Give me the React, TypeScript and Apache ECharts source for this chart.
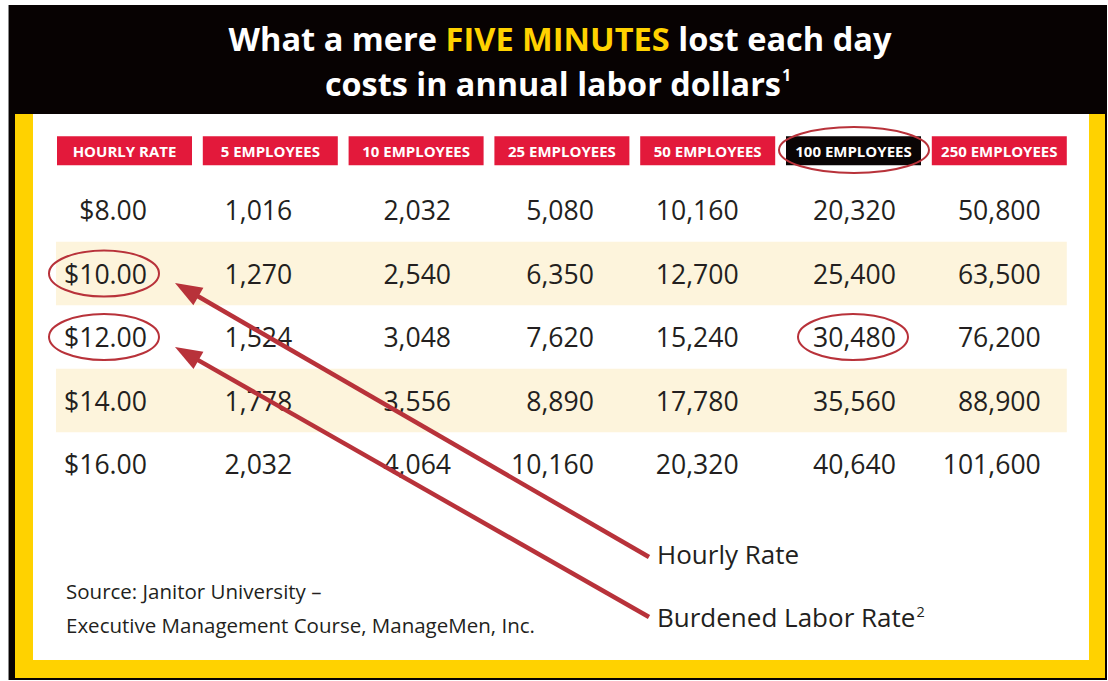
import React, { useEffect, useRef } from "react";
import * as echarts from "echarts";

// ---------- data ----------
const headers = [
  "HOURLY RATE",
  "5 EMPLOYEES",
  "10 EMPLOYEES",
  "25 EMPLOYEES",
  "50 EMPLOYEES",
  "100 EMPLOYEES",
  "250 EMPLOYEES",
];
const highlightedHeader = "100 EMPLOYEES";
const hourlyRates = ["$8.00", "$10.00", "$12.00", "$14.00", "$16.00"];
const employees5 = [1016, 1270, 1524, 1778, 2032];
const employees10 = [2032, 2540, 3048, 3556, 4064];
const employees25 = [5080, 6350, 7620, 8890, 10160];
const employees50 = [10160, 12700, 15240, 17780, 20320];
const employees100 = [20320, 25400, 30480, 35560, 40640];
const employees250 = [50800, 63500, 76200, 88900, 101600];
const shadedRows = [1, 3];
const circledCells = [
  [0, 1],
  [0, 2],
  [5, 2],
];

const titleLine1 = ["What a mere ", "FIVE MINUTES", " lost each day"];
const titleLine2 = "costs in annual labor dollars";
const sourceLines = [
  "Source: Janitor University \u2013",
  "Executive Management Course, ManageMen, Inc.",
];
const calloutHourly = "Hourly Rate";
const calloutBurdened = "Burdened Labor Rate";

// ---------- styling / layout ----------
const FONT = "'Open Sans', 'Noto Sans', sans-serif";
const RED = "#e3193b";
const YELLOW = "#ffd200";
const INK = "#231f20";
const MARK = "#b8323a";
const CREAM = "#fdf4dc";
const colRightOffset = [22.5, 22, 35, 32, 31, 42.5, 41.5];
const HALF_BOX = 67.5;

const valueColumns = [employees5, employees10, employees25, employees50, employees100, employees250];
const rowCount = hourlyRates.length;
const cells: { value: number[]; text: string }[] = [];
for (let r = 0; r < rowCount; r++) {
  cells.push({ value: [0, r], text: hourlyRates[r] });
  valueColumns.forEach((col, i) => {
    cells.push({ value: [i + 1, r], text: col[r].toLocaleString("en-US") });
  });
}

function arrow(x1: number, y1: number, x2: number, y2: number) {
  const dx = x2 - x1;
  const dy = y2 - y1;
  const len = Math.sqrt(dx * dx + dy * dy);
  const ux = dx / len;
  const uy = dy / len;
  const L = 27;
  const W = 10;
  const bx = x2 - ux * L;
  const by = y2 - uy * L;
  const nx = -uy;
  const ny = ux;
  return [
    {
      type: "line",
      z: 20,
      shape: { x1, y1, x2: bx + ux * 4, y2: by + uy * 4 },
      style: { stroke: MARK, lineWidth: 4.5 },
    },
    {
      type: "polygon",
      z: 20,
      shape: {
        points: [
          [x2, y2],
          [bx + nx * W, by + ny * W],
          [bx - nx * W, by - ny * W],
        ],
      },
      style: { fill: MARK },
    },
  ];
}

export default function App() {
  const ref = useRef<HTMLDivElement>(null);
  useEffect(() => {
    if (!ref.current) return;
    const chart = echarts.init(ref.current, undefined, { renderer: "svg" });
    const headerStyle = (bg: string) => ({
      backgroundColor: bg,
      color: "#fff",
      fontWeight: "bold",
      fontSize: 15,
      fontFamily: FONT,
      width: 135,
      height: 29,
      lineHeight: 29,
      align: "center",
    });
    const option: any = {
      animation: false,
      grid: { left: 51.6, width: 1020.6, top: 178.25, height: 317.5 },
      xAxis: {
        type: "category",
        data: headers,
        position: "top",
        axisLine: { show: false },
        axisTick: { show: false },
        splitLine: { show: false },
        axisLabel: {
          interval: 0,
          margin: 13,
          formatter: (v: string) => (v === highlightedHeader ? `{b|${v}}` : `{r|${v}}`),
          rich: {
            r: headerStyle(RED),
            b: headerStyle("#0a0505"),
          },
        },
      },
      yAxis: {
        type: "category",
        data: hourlyRates,
        inverse: true,
        show: false,
      },
      series: [
        {
          type: "custom",
          z: 1,
          data: shadedRows.map((r) => [0, r]),
          renderItem: (params: any, api: any) => {
            const p0 = api.coord([0, api.value(1)]);
            const p6 = api.coord([headers.length - 1, api.value(1)]);
            const h = api.size([0, 1])[1];
            return {
              type: "rect",
              shape: {
                x: p0[0] - HALF_BOX - 1,
                y: p0[1] - h / 2,
                width: p6[0] - p0[0] + 2 * HALF_BOX + 1,
                height: h,
              },
              style: { fill: CREAM },
            };
          },
        },
        {
          type: "custom",
          z: 3,
          data: cells.map((c) => c.value),
          renderItem: (params: any, api: any) => {
            const c = api.value(0);
            const p = api.coord([c, api.value(1)]);
            return {
              type: "text",
              style: {
                x: p[0] + colRightOffset[c],
                y: p[1],
                text: cells[params.dataIndex].text,
                align: "right",
                verticalAlign: "middle",
                fontSize: 26.6,
                fontFamily: FONT,
                fill: INK,
              },
            };
          },
        },
        {
          type: "custom",
          z: 4,
          data: circledCells,
          renderItem: (params: any, api: any) => {
            const c = api.value(0);
            const p = api.coord([c, api.value(1)]);
            const right = p[0] + colRightOffset[c];
            return {
              type: "ellipse",
              shape: { cx: right + 12 - 55, cy: p[1], rx: 55, ry: 23 },
              style: { fill: "none", stroke: MARK, lineWidth: 2 },
            };
          },
        },
      ],
      graphic: [
        { type: "rect", z: -10, shape: { x: 8, y: 5, width: 1099, height: 675 }, style: { fill: "#070202" } },
        { type: "line", z: -9, shape: { x1: 8.5, y1: 5, x2: 8.5, y2: 680 }, style: { stroke: "#8a8a8a", lineWidth: 1 } },
        { type: "rect", z: -9, shape: { x: 15, y: 114, width: 1090, height: 564 }, style: { fill: YELLOW } },
        { type: "rect", z: -8, shape: { x: 33, y: 114, width: 1056, height: 546 }, style: { fill: "#ffffff" } },
        {
          type: "text",
          z: 5,
          style: {
            x: 560,
            y: 38,
            text: `{w|${titleLine1[0]}}{y|${titleLine1[1]}}{w|${titleLine1[2]}}`,
            align: "center",
            verticalAlign: "middle",
            rich: {
              w: { fontSize: 32.6, fontWeight: "bold", fontFamily: FONT, fill: "#fff", color: "#fff" },
              y: { fontSize: 32.6, fontWeight: "bold", fontFamily: FONT, fill: YELLOW, color: YELLOW },
            },
          },
        },
        {
          type: "text",
          z: 5,
          style: {
            x: 558,
            y: 82.5,
            text: `{w|${titleLine2}}{s|1}`,
            align: "center",
            verticalAlign: "middle",
            rich: {
              w: { fontSize: 32.4, fontWeight: "bold", fontFamily: FONT, fill: "#fff", color: "#fff", lineHeight: 32 },
              s: { fontSize: 16, fontWeight: "bold", fontFamily: FONT, fill: "#fff", color: "#fff", verticalAlign: "top", lineHeight: 32, padding: [0, 0, 8, 1] },
            },
          },
        },
        {
          type: "ellipse",
          z: 20,
          shape: { cx: 854, cy: 150, rx: 75, ry: 23 },
          style: { fill: "none", stroke: MARK, lineWidth: 2 },
        },
        ...arrow(649, 557, 175, 283),
        ...arrow(649, 617, 175, 347),
        {
          type: "text",
          z: 5,
          style: { x: 657, y: 554, text: calloutHourly, verticalAlign: "middle", fontSize: 26, fontFamily: FONT, fill: INK },
        },
        {
          type: "text",
          z: 5,
          style: {
            x: 657,
            y: 617,
            text: `{t|${calloutBurdened}}{s|2}`,
            verticalAlign: "middle",
            rich: {
              t: { fontSize: 26, fontFamily: FONT, fill: INK, color: INK, lineHeight: 26 },
              s: { fontSize: 14.5, fontFamily: FONT, fill: INK, color: INK, verticalAlign: "top", lineHeight: 26, padding: [0, 0, 6, 1] },
            },
          },
        },
        {
          type: "text",
          z: 5,
          style: { x: 66, y: 591, text: sourceLines[0], verticalAlign: "middle", fontSize: 20.5, fontFamily: FONT, fill: INK },
        },
        {
          type: "text",
          z: 5,
          style: { x: 66, y: 625, text: sourceLines[1], verticalAlign: "middle", fontSize: 20.5, fontFamily: FONT, fill: INK },
        },
      ],
    };
    chart.setOption(option);
    return () => chart.dispose();
  }, []);
  return (
    <div
      ref={ref}
      style={{ position: "fixed", left: 0, top: 0, width: 1108, height: 681, background: "#fff" }}
    />
  );
}
